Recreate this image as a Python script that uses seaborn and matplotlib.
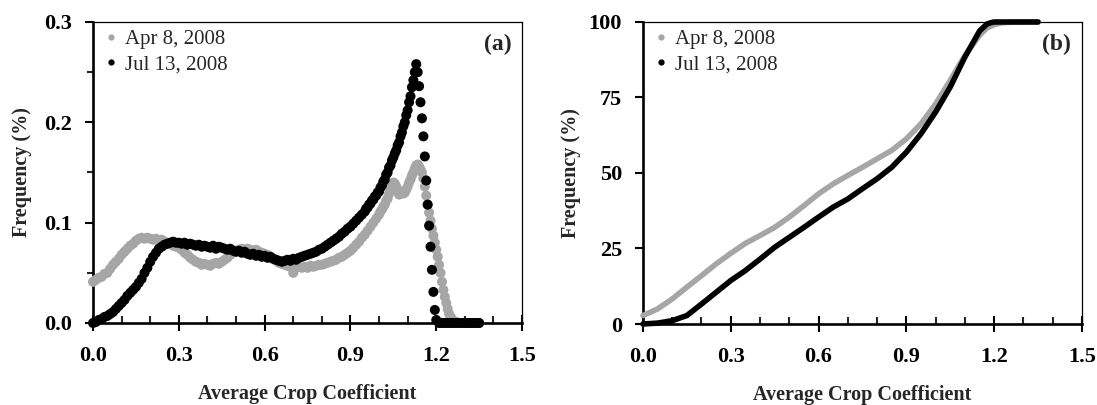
import numpy as np
import pandas as pd
import matplotlib
matplotlib.use("Agg")
import matplotlib.pyplot as plt
import seaborn as sns
from matplotlib.ticker import MultipleLocator, FormatStrFormatter
from matplotlib.lines import Line2D

# ---------------- data ----------------
series_names = ["Apr 8, 2008", "Jul 13, 2008"]
series_colors = ["#A6A6A6", "#000000"]

# Panel (a): frequency (%) vs average crop coefficient
apr_x = list(np.round(np.arange(0.00, 1.00, 0.01), 3)) + \
        [1.00, 1.005, 1.01, 1.015, 1.02, 1.025, 1.03, 1.035, 1.04, 1.045, 1.05,
         1.055, 1.06, 1.065, 1.07, 1.075, 1.08, 1.085, 1.09, 1.095, 1.10, 1.105,
         1.11, 1.115, 1.12, 1.125, 1.13, 1.135, 1.14, 1.145,
         1.15, 1.155, 1.16, 1.165, 1.17, 1.175, 1.18, 1.185, 1.19, 1.195, 1.20, 1.205,
         1.21, 1.215, 1.22, 1.225, 1.23, 1.235, 1.24, 1.245, 1.25, 1.255, 1.26, 1.27,
         1.28, 1.29, 1.30, 1.31, 1.32, 1.33, 1.34, 1.35]
apr_y = [0.041, 0.043, 0.045, 0.046, 0.049, 0.050, 0.054, 0.058, 0.061, 0.064,
         0.068, 0.071, 0.074, 0.077, 0.079, 0.082, 0.084, 0.085, 0.084, 0.085,
         0.084, 0.083, 0.084, 0.082, 0.083, 0.081, 0.080, 0.079, 0.077, 0.076,
         0.075, 0.073, 0.070, 0.068, 0.065, 0.063, 0.061, 0.060, 0.058, 0.059,
         0.058, 0.057, 0.059, 0.060, 0.059, 0.061, 0.063, 0.065, 0.068, 0.070,
         0.072, 0.073, 0.074, 0.073, 0.074, 0.073, 0.072, 0.073, 0.071, 0.070,
         0.069, 0.068, 0.066, 0.064, 0.062, 0.060, 0.059, 0.058, 0.057, 0.056,
         0.050, 0.055, 0.056, 0.055, 0.056, 0.055, 0.057, 0.056, 0.057, 0.058,
         0.058, 0.059, 0.060, 0.061, 0.062, 0.063, 0.065, 0.066, 0.068, 0.070,
         0.072, 0.075, 0.078, 0.081, 0.085, 0.088, 0.092, 0.096, 0.100, 0.104,
         0.108, 0.111, 0.113, 0.116, 0.118, 0.122, 0.124, 0.129, 0.132, 0.137,
         0.140, 0.139, 0.136, 0.131, 0.128, 0.129, 0.131, 0.129, 0.130, 0.133,
         0.136, 0.140, 0.143, 0.147, 0.150, 0.154, 0.157, 0.158, 0.156, 0.153,
         0.150, 0.144, 0.136, 0.127, 0.118, 0.110, 0.102, 0.094, 0.087, 0.080,
         0.073, 0.066, 0.058, 0.050, 0.041, 0.033, 0.026, 0.020, 0.014, 0.009,
         0.006, 0.004, 0.002, 0.001, 0.000, 0.000, 0.000, 0.000, 0.000, 0.000,
         0.000, 0.000]

jul_x = list(np.round(np.arange(0.00, 0.95, 0.01), 3)) + \
        [0.95, 0.955, 0.96, 0.965, 0.97, 0.975, 0.98, 0.985, 0.99, 0.995,
         1.00, 1.005, 1.01, 1.015, 1.02, 1.025, 1.03, 1.035, 1.04, 1.045,
         1.05, 1.055, 1.06, 1.065, 1.07, 1.075, 1.08, 1.085, 1.09, 1.095,
         1.10, 1.105, 1.11, 1.115, 1.12,
         1.125, 1.13, 1.135, 1.14, 1.145, 1.15, 1.155, 1.16, 1.165, 1.17, 1.175,
         1.18, 1.185, 1.19, 1.195, 1.20, 1.21, 1.22, 1.23, 1.24, 1.25, 1.26, 1.27,
         1.28, 1.29, 1.30, 1.31, 1.32, 1.33, 1.34, 1.35]
jul_y = [0.000, 0.001, 0.003, 0.004, 0.006, 0.007, 0.009, 0.011, 0.014, 0.017,
         0.020, 0.023, 0.027, 0.030, 0.033, 0.036, 0.040, 0.044, 0.050, 0.055,
         0.061, 0.066, 0.070, 0.074, 0.076, 0.078, 0.079, 0.080, 0.081, 0.080,
         0.080, 0.079, 0.080, 0.078, 0.079, 0.078, 0.077, 0.078, 0.076, 0.077,
         0.076, 0.075, 0.077, 0.074, 0.076, 0.075, 0.074, 0.073, 0.074, 0.072,
         0.071, 0.072, 0.070, 0.071, 0.069, 0.068, 0.069, 0.067, 0.068, 0.066,
         0.067, 0.065, 0.066, 0.064, 0.063, 0.062, 0.061, 0.062, 0.063, 0.062,
         0.064, 0.063, 0.065, 0.066, 0.067, 0.068, 0.069, 0.070, 0.071, 0.073,
         0.074, 0.076, 0.078, 0.080, 0.082, 0.084, 0.086, 0.089, 0.091, 0.094,
         0.096, 0.099, 0.102, 0.105, 0.108,
         0.111, 0.114, 0.115, 0.118, 0.119, 0.122, 0.123, 0.126, 0.127, 0.130,
         0.131, 0.135, 0.137, 0.141, 0.143, 0.148, 0.150, 0.155, 0.157, 0.162,
         0.165, 0.169, 0.172, 0.177, 0.180, 0.186, 0.190, 0.196, 0.200, 0.207,
         0.212, 0.220, 0.226, 0.235, 0.242,
         0.250, 0.258, 0.250, 0.236, 0.220, 0.204, 0.186, 0.166, 0.142, 0.118,
         0.097, 0.076, 0.053, 0.031, 0.013, 0.003, 0.000, 0.000, 0.000, 0.000,
         0.000, 0.000, 0.000, 0.000, 0.000, 0.000, 0.000, 0.000, 0.000, 0.000,
         0.000]

# Panel (b): cumulative frequency (%)
cum_apr_x = [0.00, 0.05, 0.10, 0.15, 0.20, 0.25, 0.30, 0.35, 0.40, 0.45, 0.50,
             0.55, 0.60, 0.65, 0.70, 0.75, 0.80, 0.85, 0.90, 0.95, 1.00, 1.05,
             1.10, 1.15, 1.175, 1.20, 1.225, 1.25, 1.30, 1.35]
cum_apr_y = [2.8, 5.0, 8.3, 12.2, 16.0, 19.9, 23.4, 26.7, 29.3, 32.0, 35.4,
             39.2, 43.1, 46.4, 49.2, 51.9, 54.7, 57.5, 61.3, 66.3, 72.9, 80.7,
             88.9, 95.6, 98.0, 99.1, 99.7, 99.9, 100.0, 100.0]
cum_jul_x = [0.00, 0.05, 0.10, 0.15, 0.20, 0.25, 0.30, 0.35, 0.40, 0.45, 0.50,
             0.55, 0.60, 0.65, 0.70, 0.75, 0.80, 0.85, 0.90, 0.95, 1.00, 1.05,
             1.10, 1.15, 1.175, 1.19, 1.20, 1.25, 1.30, 1.35]
cum_jul_y = [0.0, 0.3, 1.1, 2.8, 6.6, 10.5, 14.4, 17.7, 21.5, 25.4, 28.7,
             32.0, 35.4, 38.7, 41.4, 44.8, 48.1, 51.9, 56.9, 63.0, 70.2, 78.5,
             88.4, 97.0, 99.3, 99.8, 100.0, 100.0, 100.0, 100.0]

x_ticks = [0.0, 0.3, 0.6, 0.9, 1.2, 1.5]
freq_ticks = [0.0, 0.1, 0.2, 0.3]
cum_ticks = [0, 25, 50, 75, 100]

# ---------------- frames ----------------
df_a = pd.concat([
    pd.DataFrame({"x": apr_x, "y": apr_y, "date": series_names[0]}),
    pd.DataFrame({"x": jul_x, "y": jul_y, "date": series_names[1]}),
], ignore_index=True)
df_b = pd.concat([
    pd.DataFrame({"x": cum_apr_x, "y": cum_apr_y, "date": series_names[0]}),
    pd.DataFrame({"x": cum_jul_x, "y": cum_jul_y, "date": series_names[1]}),
], ignore_index=True)
palette = dict(zip(series_names, series_colors))

# ---------------- style ----------------
sns.set_style("ticks")
plt.rcParams["font.family"] = ["Liberation Serif", "DejaVu Serif"]

fig = plt.figure(figsize=(10.97, 4.05), dpi=100)
ax1 = fig.add_axes([0.0848, 0.2025, 0.3911, 0.7432])
ax2 = fig.add_axes([0.5861, 0.2000, 0.4002, 0.7457])

sns.scatterplot(data=df_a, x="x", y="y", hue="date", palette=palette,
                hue_order=series_names, s=52, linewidth=0, edgecolor="none",
                legend=False, ax=ax1, clip_on=False, zorder=3)
sns.lineplot(data=df_b, x="x", y="y", hue="date", palette=palette,
             hue_order=series_names, linewidth=4.0, legend=False, ax=ax2,
             sort=False, estimator=None, clip_on=False, zorder=3)


def style_axes(ax, yticks, ymax, yminor, yfmt, label):
    ax.set_xlim(0, 1.5)
    ax.set_ylim(0, ymax)
    ax.set_xticks(x_ticks)
    ax.xaxis.set_minor_locator(MultipleLocator(0.1))
    ax.set_yticks(yticks)
    if yminor:
        ax.yaxis.set_minor_locator(MultipleLocator(yminor))
    ax.xaxis.set_major_formatter(FormatStrFormatter("%.1f"))
    ax.yaxis.set_major_formatter(FormatStrFormatter(yfmt))
    for s in ["left", "bottom"]:
        ax.spines[s].set_linewidth(1.9)
        ax.spines[s].set_color("black")
    for s in ["top", "right"]:
        ax.spines[s].set_visible(True)
        ax.spines[s].set_linewidth(0.9)
        ax.spines[s].set_color("black")
    ax.tick_params(axis="x", which="major", direction="inout", length=11,
                   width=1.5, pad=11, labelsize=16, colors="black")
    ax.tick_params(axis="x", which="minor", direction="in", length=5, width=1.5)
    ax.tick_params(axis="y", which="major", direction="out", length=6,
                   width=1.5, pad=9, labelsize=16, colors="black")
    ax.tick_params(axis="y", which="minor", direction="out", length=4, width=1.5)
    ax.tick_params(top=False, right=False, which="both")
    for lab in ax.get_xticklabels() + ax.get_yticklabels():
        lab.set_fontweight("bold")
    ax.set_xlabel("Average Crop Coefficient", fontsize=14.5, fontweight="bold")
    ax.set_ylabel("Frequency (%)", fontsize=14.5, fontweight="bold")
    ax.xaxis.set_label_coords(0.5, -0.235)
    ax.xaxis.label.set_va("center")
    ax.yaxis.set_label_coords(-0.165, 0.5)
    ax.yaxis.label.set_va("center")
    ax.text(0.975, 0.925, label, transform=ax.transAxes, ha="right", va="center",
            fontsize=17, fontweight="bold")
    handles = [Line2D([], [], linestyle="none", marker="o", markersize=4.5,
                      markerfacecolor=c, markeredgecolor="none")
               for c in series_colors]
    ax.legend(handles, series_names, loc="upper left",
              bbox_to_anchor=(0.028, 0.975), frameon=False, fontsize=15,
              handlelength=0.6, handletextpad=0.35, labelspacing=0.27,
              borderpad=0, borderaxespad=0)


style_axes(ax1, freq_ticks, 0.3, 0.05, "%.1f", "(a)")
style_axes(ax2, cum_ticks, 100, None, "%d", "(b)")

fig.savefig("out.png", dpi=100)
